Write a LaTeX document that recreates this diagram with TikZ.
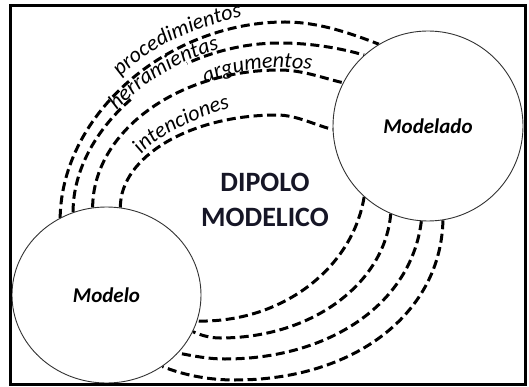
\documentclass[tikz,border=0pt]{standalone}
\usepackage{fontspec}
\setmainfont{Carlito}
\usetikzlibrary{shapes.geometric,decorations.text,backgrounds}
\newcommand{\arcfont}{\fontsize{22}{22}\selectfont\itshape}
\newcommand{\bubblefont}{\fontsize{21}{21}\selectfont\bfseries\itshape}
\newcommand{\titlefont}{\fontsize{28}{35}\selectfont\bfseries}
\definecolor{titleink}{RGB}{22,22,38}
\begin{document}
\begin{tikzpicture}[x=1pt,y=-1pt,
  bubble/.style={draw=black!80, line width=0.9pt, fill=white, inner sep=0pt, font=\bubblefont},
  link/.style={draw=black, line width=3pt, dash pattern=on 9pt off 4.5pt},
  arclabel/.style={decorate, decoration={text along path, text={|\arcfont|#1}, text align=center}},
  frame/.style={draw=black, line width=2.5pt}
]
\useasboundingbox (0,0) rectangle (529,387);
\node[bubble, ellipse, minimum width=189pt, minimum height=176pt] (modelo) at (106.5,295) {Modelo};
\node[bubble, circle, minimum size=190pt] (modelado) at (428,126) {Modelado};
\node[font=\titlefont, text=titleink, align=center] (dipolo) at (265,200) {DIPOLO\\MODELICO};

\coordinate (top1) at (285,22);
\coordinate (top2) at (280,43);
\coordinate (top3) at (280,70);
\coordinate (top4) at (277,115);
\coordinate (bot1) at (235,380);
\coordinate (bot2) at (225,359);
\coordinate (bot3) at (220,338);

\begin{scope}[on background layer]
\fill[white] (0,0) rectangle (529,387);
% upper arcs
\draw[link] (modelo.121) .. controls (62,112) and (170,22) .. (top1) .. controls (318,22) and (350,33) .. (modelado.121);
\draw[link] (modelo.112) .. controls (73,125) and (172,43) .. (top2) .. controls (310,43) and (340,48) .. (modelado.132);
\draw[link] (modelo.99) .. controls (93,132) and (177,70) .. (top3) .. controls (303,70) and (326,79) .. (modelado.153);
\draw[link] (modelo.81) .. controls (120,157) and (190,115) .. (top4) .. controls (297,115) and (317,126) .. (modelado.182);
% lower arcs
\draw[link] (modelado.279) .. controls (441,313) and (355,380) .. (bot1) .. controls (211,380) and (186,376) .. (modelo.308);
\draw[link] (modelado.266) .. controls (411,305) and (328,359) .. (bot2) .. controls (209,359) and (193,356) .. (modelo.321);
\draw[link] (modelado.247) .. controls (385,282) and (314,338) .. (bot3) .. controls (210,338) and (200,335) .. (modelo.337);
\draw[link] (modelado.228) .. controls (352,270) and (280,323) .. (modelo.344);
\end{scope}

% white box behind the middle of "herramientas" hides that stretch of its arc
\draw[white, line width=5pt] plot[smooth] coordinates {(132,98.5) (144.3,88.6) (160.5,77.5) (187,63.5)};

% labels along the arcs
\path[arclabel=procedimientos] (118,80) .. controls (147,45.5) and (202,25.4) .. (246,16);
\path[decorate, decoration={text along path, text={|\arcfont|herramientas}, text align={left indent=113pt}, raise=2pt}]
  (modelo.112) .. controls (73,125) and (172,43) .. (top2);
\path[arclabel=argumentos] (206,83) .. controls (237.7,68.2) and (276.3,65.1) .. (311,70);
\path[arclabel=intenciones] (139,158) .. controls (156,133.4) and (205,114.8) .. (234,107);

\draw[frame] (10.7,5.7) rectangle (525.5,384.5);
\end{tikzpicture}
\end{document}
